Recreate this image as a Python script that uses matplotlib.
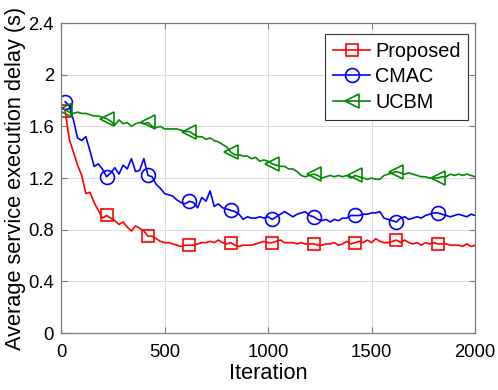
import matplotlib
matplotlib.use("Agg")
import matplotlib.pyplot as plt
import numpy as np

# iterations sampled every 20 steps; markers every 200
iterations = list(range(20, 2001, 20))

proposed = [
    1.72, 1.50, 1.40, 1.30, 1.22, 1.08, 1.09, 1.01, 0.95, 0.89,
    0.91, 0.89, 0.87, 0.84, 0.86, 0.82, 0.79, 0.83, 0.81, 0.79,
    0.75, 0.75, 0.73, 0.71, 0.70, 0.70, 0.69, 0.68, 0.67, 0.68,
    0.68, 0.68, 0.69, 0.70, 0.70, 0.71, 0.70, 0.72, 0.70, 0.69,
    0.70, 0.68, 0.67, 0.68, 0.68, 0.68, 0.69, 0.70, 0.71, 0.70,
    0.70, 0.71, 0.72, 0.70, 0.70, 0.70, 0.69, 0.70, 0.69, 0.69,
    0.69, 0.68, 0.68, 0.69, 0.69, 0.70, 0.68, 0.69, 0.71, 0.69,
    0.70, 0.71, 0.70, 0.72, 0.70, 0.73, 0.71, 0.70, 0.70, 0.71,
    0.72, 0.70, 0.72, 0.70, 0.69, 0.70, 0.68, 0.70, 0.69, 0.70,
    0.69, 0.69, 0.69, 0.68, 0.68, 0.68, 0.67, 0.69, 0.67, 0.68,
]

cmac = [
    1.79, 1.76, 1.65, 1.51, 1.49, 1.52, 1.41, 1.29, 1.31, 1.27,
    1.21, 1.24, 1.28, 1.23, 1.30, 1.27, 1.35, 1.25, 1.26, 1.35,
    1.22, 1.21, 1.15, 1.12, 1.08, 1.07, 1.06, 1.03, 1.01, 1.00,
    1.02, 1.01, 0.97, 1.05, 1.02, 1.10, 0.98, 1.00, 0.97, 0.96,
    0.95, 0.94, 0.92, 0.88, 0.90, 0.89, 0.89, 0.90, 0.89, 0.90,
    0.88, 0.90, 0.92, 0.94, 0.92, 0.90, 0.92, 0.93, 0.94, 0.91,
    0.90, 0.88, 0.87, 0.88, 0.86, 0.88, 0.87, 0.89, 0.89, 0.91,
    0.91, 0.91, 0.92, 0.92, 0.93, 0.93, 0.94, 0.89, 0.88, 0.87,
    0.86, 0.89, 0.90, 0.88, 0.89, 0.90, 0.89, 0.91, 0.92, 0.93,
    0.93, 0.92, 0.91, 0.90, 0.91, 0.92, 0.91, 0.90, 0.92, 0.91,
]

ucbm = [
    1.73, 1.71, 1.70, 1.71, 1.70, 1.70, 1.69, 1.68, 1.68, 1.67,
    1.66, 1.64, 1.61, 1.65, 1.62, 1.63, 1.60, 1.62, 1.63, 1.62,
    1.63, 1.60, 1.59, 1.60, 1.58, 1.58, 1.58, 1.58, 1.57, 1.56,
    1.56, 1.54, 1.52, 1.52, 1.50, 1.51, 1.49, 1.48, 1.46, 1.44,
    1.40, 1.38, 1.38, 1.37, 1.37, 1.35, 1.36, 1.33, 1.34, 1.33,
    1.31, 1.30, 1.29, 1.29, 1.27, 1.27, 1.25, 1.22, 1.21, 1.22,
    1.23, 1.22, 1.20, 1.21, 1.22, 1.21, 1.22, 1.21, 1.22, 1.20,
    1.22, 1.21, 1.20, 1.19, 1.20, 1.19, 1.19, 1.22, 1.23, 1.24,
    1.25, 1.24, 1.23, 1.24, 1.23, 1.22, 1.21, 1.21, 1.20, 1.20,
    1.20, 1.21, 1.21, 1.23, 1.22, 1.23, 1.22, 1.23, 1.22, 1.21,
]

x_ticks = [0, 500, 1000, 1500, 2000]
y_ticks = [0, 0.4, 0.8, 1.2, 1.6, 2, 2.4]
y_ticklabels = ["0", "0.4", "0.8", "1.2", "1.6", "2", "2.4"]

plt.rcParams.update({"font.family": ["Liberation Sans", "DejaVu Sans"], "font.size": 13.3})

fig = plt.figure(figsize=(4.98, 3.90), dpi=100)
ax = fig.add_axes([0.1225, 0.146, 0.8315, 0.795])

series = [
    (proposed, "Proposed", "#ff0000", "s", 8),
    (cmac, "CMAC", "#0000ff", "o", 10),
    (ucbm, "UCBM", "#008a00", "<", 10.5),
]
for vals, label, color, marker, ms in series:
    ax.plot(iterations, vals, color=color, lw=1.2, marker=marker, ms=ms,
            markevery=10, markerfacecolor="none", markeredgecolor=color,
            markeredgewidth=1.2, label=label)

ax.set_xlim(0, 2000)
ax.set_ylim(0, 2.4)
ax.set_xticks(x_ticks)
ax.set_yticks(y_ticks)
ax.set_yticklabels(y_ticklabels)
ax.grid(True, color="#dcdcdc", lw=0.7)
ax.set_axisbelow(True)
for sp in ax.spines.values():
    sp.set_color("#7a7a7a")
    sp.set_linewidth(0.9)
ax.tick_params(direction="in", top=True, right=True, length=4, color="#7a7a7a",
               labelsize=13.3)
ax.tick_params(axis="x", pad=8)
ax.tick_params(axis="y", pad=5)
ax.set_xlabel("Iteration", fontsize=15.7, labelpad=1)
ax.set_ylabel("Average service execution delay (s)", fontsize=15.7, labelpad=2)

leg = ax.legend(loc="upper right", bbox_to_anchor=(0.984, 0.9645), fontsize=14.3,
                handlelength=1.85, handletextpad=0.25, borderpad=0.4, labelspacing=0.32,
                borderaxespad=0, fancybox=False, framealpha=1, edgecolor="#333333")
leg.get_frame().set_linewidth(0.8)

fig.savefig("out.png", dpi=100)
